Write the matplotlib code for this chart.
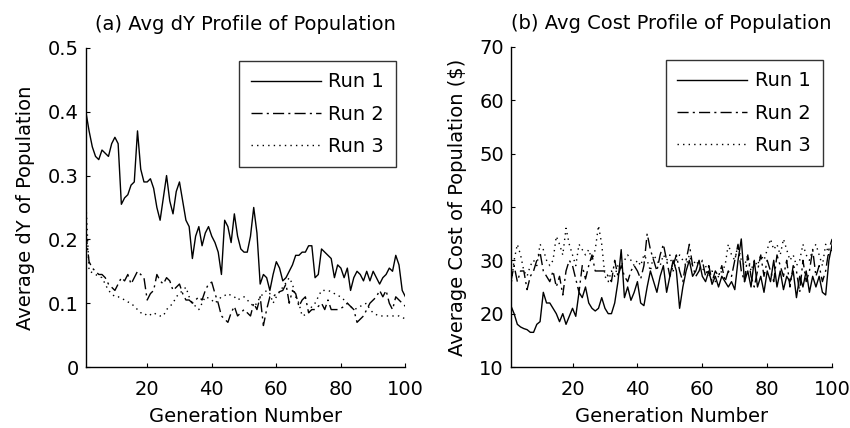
import numpy as np
import matplotlib
matplotlib.use("Agg")
import matplotlib.pyplot as plt

plt.rcParams['font.family'] = ['DejaVu Sans']

generations = list(range(1, 101))

dy_run1 = [0.40, 0.37, 0.345, 0.33, 0.325, 0.34, 0.335, 0.33, 0.35, 0.36,
           0.35, 0.255, 0.265, 0.27, 0.285, 0.29, 0.37, 0.31, 0.29, 0.29,
           0.295, 0.28, 0.25, 0.23, 0.265, 0.30, 0.26, 0.24, 0.275, 0.29,
           0.26, 0.23, 0.22, 0.17, 0.205, 0.22, 0.19, 0.21, 0.22, 0.205,
           0.195, 0.18, 0.145, 0.23, 0.22, 0.195, 0.24, 0.205, 0.185, 0.18,
           0.18, 0.205, 0.25, 0.21, 0.13, 0.145, 0.14, 0.12, 0.145, 0.165,
           0.155, 0.135, 0.14, 0.15, 0.16, 0.175, 0.175, 0.18, 0.18, 0.19,
           0.19, 0.14, 0.145, 0.185, 0.18, 0.175, 0.17, 0.14, 0.16, 0.155,
           0.14, 0.155, 0.12, 0.14, 0.15, 0.145, 0.135, 0.15, 0.135, 0.15,
           0.14, 0.13, 0.14, 0.145, 0.155, 0.15, 0.175, 0.16, 0.12, 0.11]

dy_run2 = [0.21, 0.165, 0.155, 0.15, 0.145, 0.145, 0.14, 0.13, 0.125, 0.12,
           0.13, 0.14, 0.135, 0.145, 0.13, 0.14, 0.15, 0.145, 0.14, 0.105,
           0.115, 0.12, 0.145, 0.135, 0.13, 0.14, 0.135, 0.12, 0.125, 0.13,
           0.115, 0.105, 0.105, 0.10, 0.105, 0.11, 0.105, 0.12, 0.13, 0.133,
           0.115, 0.10, 0.08, 0.075, 0.07, 0.085, 0.095, 0.08, 0.085, 0.09,
           0.085, 0.08, 0.10, 0.09, 0.11, 0.065, 0.09, 0.11, 0.11, 0.115,
           0.118, 0.12, 0.13, 0.10, 0.12, 0.115, 0.095, 0.105, 0.11, 0.085,
           0.09, 0.09, 0.095, 0.10, 0.09, 0.105, 0.09, 0.09, 0.09, 0.092,
           0.095, 0.10, 0.095, 0.09, 0.07, 0.075, 0.08, 0.09, 0.10, 0.105,
           0.11, 0.12, 0.11, 0.12, 0.10, 0.09, 0.11, 0.105, 0.10, 0.095]

dy_run3 = [0.26, 0.15, 0.148, 0.145, 0.142, 0.14, 0.13, 0.12, 0.115, 0.11,
           0.11, 0.108, 0.105, 0.102, 0.10, 0.095, 0.09, 0.085, 0.085, 0.08,
           0.082, 0.085, 0.082, 0.08, 0.08, 0.09, 0.095, 0.10, 0.11, 0.115,
           0.12, 0.125, 0.11, 0.10, 0.095, 0.09, 0.10, 0.11, 0.108, 0.105,
           0.10, 0.105, 0.11, 0.112, 0.115, 0.112, 0.11, 0.105, 0.108, 0.11,
           0.105, 0.10, 0.095, 0.10, 0.11, 0.115, 0.12, 0.115, 0.10, 0.11,
           0.118, 0.125, 0.132, 0.14, 0.13, 0.11, 0.10, 0.08, 0.082, 0.085,
           0.095, 0.10, 0.11, 0.12, 0.12, 0.12, 0.118, 0.115, 0.112, 0.11,
           0.105, 0.10, 0.095, 0.09, 0.092, 0.095, 0.098, 0.10, 0.09, 0.085,
           0.082, 0.08, 0.08, 0.08, 0.08, 0.08, 0.08, 0.08, 0.078, 0.075]

cost_run1 = [21.5, 20, 18, 17.5, 17.2, 17, 16.5, 16.5, 18, 18.5,
             24, 22, 22, 21, 20, 18.5, 20, 18, 19.5, 21,
             19.5, 24, 23, 25, 22, 21, 20.5, 21, 23, 21,
             20, 20, 22, 26, 32, 23, 25, 22.5, 24, 26,
             22, 21.5, 25, 28, 26, 24, 27, 29, 24, 27,
             30, 28, 21, 25, 28, 30, 27, 28, 30, 27,
             26, 28, 25.5, 27, 25, 27, 26, 25, 26, 24.5,
             30, 34, 26, 28, 25, 30, 25, 27, 24, 28,
             26, 30, 25, 28, 24.5, 27, 26, 28, 23, 27,
             25, 28, 24, 27, 25, 27, 24, 23.5, 30, 33]

cost_run2 = [26, 29, 26, 28, 28, 24.5, 27, 28, 30, 31.5,
             28, 27, 26, 28, 25, 27, 23.5, 28, 30, 29,
             26.5, 24, 29, 26.5, 29, 31, 28, 28, 28, 28,
             27, 26, 30, 27, 29, 27, 26, 28, 29, 28,
             26.5, 29, 35, 32, 30, 28, 31, 33, 30, 27,
             29, 31, 28, 26, 30, 33, 29, 27, 28, 30,
             27, 29, 26, 28, 27, 29, 26, 28, 27, 30,
             33, 28, 26, 31, 27, 25, 28, 31, 27, 30,
             28, 26, 31, 29, 27, 30, 25, 29, 28, 24,
             30, 26, 28, 32, 27, 29, 26, 28, 32, 34]

cost_run3 = [25, 30, 33, 31, 28, 27, 29, 30, 29, 33,
             32, 30, 29, 30, 34.5, 33, 31, 36, 33, 31,
             29, 33, 32, 31, 32, 30, 32, 36.5, 33, 27,
             26, 28, 27, 29, 29, 30, 31, 30, 29, 30,
             29, 31, 30, 28, 31, 30, 29, 31, 30, 31,
             28, 30, 31, 30, 29, 31, 29, 30, 29, 28,
             29, 27, 28, 26, 27, 28, 29, 33, 31, 30,
             33, 30, 29, 31, 28, 30, 29, 31, 30, 32,
             34, 32, 33, 31, 34, 32, 30, 31, 29, 30,
             33, 31, 30, 32, 33, 31, 29, 33, 31, 32]

run_labels = ["Run 1", "Run 2", "Run 3"]
styles = ['-', (0, (8, 3, 1.5, 3)), (0, (1, 3))]

fig = plt.figure(figsize=(8.5, 4.28), dpi=100)
FS = 14

def setup(ax, title, ylabel, ylim, yticks):
    ax.set_xlim(1, 100)
    ax.set_ylim(*ylim)
    ax.set_xticks([20, 40, 60, 80, 100])
    ax.set_yticks(yticks)
    ax.spines['top'].set_visible(False)
    ax.spines['right'].set_visible(False)
    for s in ('left', 'bottom'):
        ax.spines[s].set_linewidth(1.0)
    ax.tick_params(axis='both', direction='in', length=3, width=0.8, labelsize=FS)
    ax.tick_params(axis='x', pad=9)
    ax.tick_params(axis='y', pad=5)
    ax.set_title(title, fontsize=FS, pad=13)
    ax.set_ylabel(ylabel, fontsize=FS, labelpad=9)
    ax.set_xlabel("Generation Number", fontsize=FS, labelpad=6)

ax1 = fig.add_axes([0.101, 0.1425, 0.376, 0.7455])
for vals, lab, ls in zip([dy_run1, dy_run2, dy_run3], run_labels, styles):
    ax1.plot(generations, vals, color='black', linestyle=ls, linewidth=1.0, label=lab)
setup(ax1, "(a) Avg dY Profile of Population", "Average dY of Population",
      (0, 0.5), [0, 0.1, 0.2, 0.3, 0.4, 0.5])
ax1.set_yticklabels(["0", "0.1", "0.2", "0.3", "0.4", "0.5"])

ax2 = fig.add_axes([0.601, 0.1425, 0.378, 0.748])
for vals, lab, ls in zip([cost_run1, cost_run2, cost_run3], run_labels, styles):
    ax2.plot(generations, vals, color='black', linestyle=ls, linewidth=1.0, label=lab)
setup(ax2, "(b) Avg Cost Profile of Population", "Average Cost of Population ($)",
      (10, 70), [10, 20, 30, 40, 50, 60, 70])

for ax in (ax1, ax2):
    leg = ax.legend(loc='upper right', bbox_to_anchor=(0.97, 0.96), fontsize=FS,
                    frameon=True, fancybox=False, edgecolor='black',
                    handlelength=3.6, handletextpad=0.4, labelspacing=0.68,
                    borderpad=0.6, borderaxespad=0.0)
    leg.get_frame().set_linewidth(1.0)

fig.savefig("out.png", dpi=100)
